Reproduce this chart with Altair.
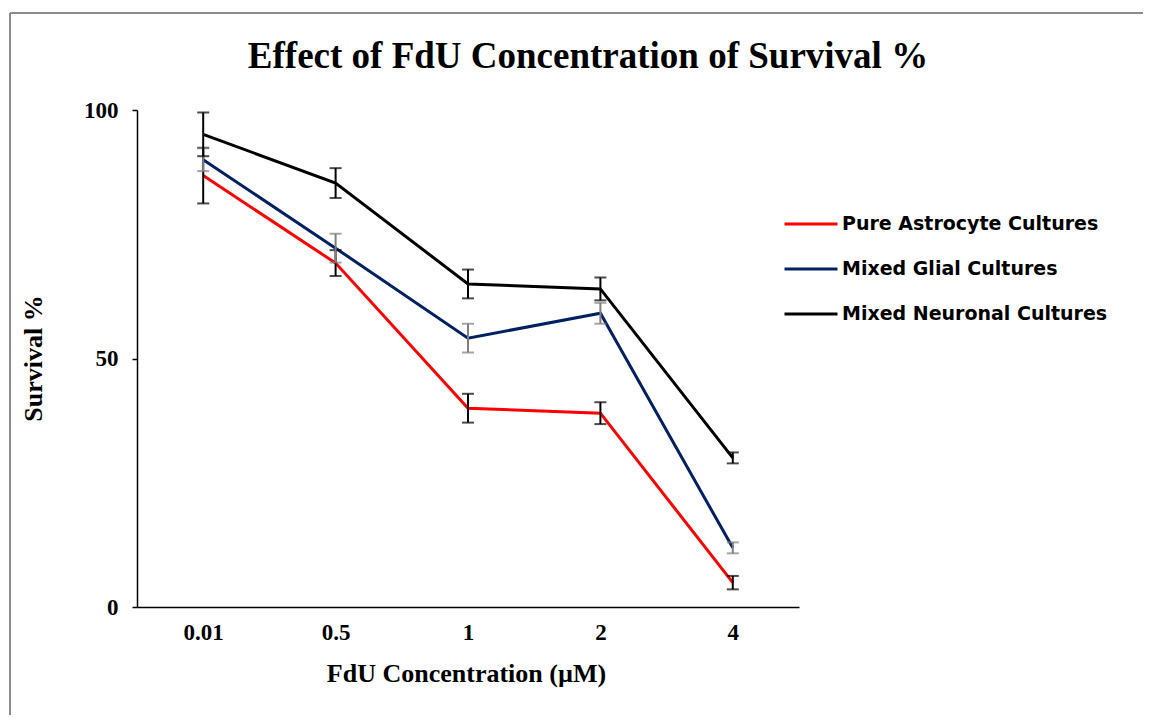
import altair as alt
import pandas as pd

# ---- data ----
chart_title = "Effect of FdU Concentration of Survival %"
concentrations = ["0.01", "0.5", "1", "2", "4"]
series_names = ["Pure Astrocyte Cultures", "Mixed Glial Cultures", "Mixed Neuronal Cultures"]
astrocyte = [86.8, 69.2, 40.0, 39.0, 4.9]
astrocyte_err = [5.6, 2.6, 2.9, 2.2, 1.35]
glial = [90.0, 72.2, 54.1, 59.1, 11.9]
glial_err = [2.3, 2.9, 2.9, 2.1, 1.1]
neuronal = [95.1, 85.3, 65.0, 64.0, 30.0]
neuronal_err = [4.4, 3.0, 2.9, 2.3, 1.1]
y_ticks = [0, 50, 100]

line_colors = ["#FF0000", "#002060", "#000000"]
err_colors = ["#000000", "#7F7F7F", "#000000"]

rows = []
for name, vals, errs in zip(series_names, [astrocyte, glial, neuronal],
                            [astrocyte_err, glial_err, neuronal_err]):
    for c, v, e in zip(concentrations, vals, errs):
        rows.append({"conc": c, "series": name, "value": v, "lo": v - e, "hi": v + e})
df = pd.DataFrame(rows)

SERIF = "Liberation Serif"

x_enc = alt.X(
    "conc:N", sort=concentrations,
    scale=alt.Scale(type="point", padding=0.5),
    axis=alt.Axis(
        title="FdU Concentration (µM)", labelAngle=0, ticks=False,
        labelFont=SERIF, labelFontSize=23, labelFontWeight="bold", labelColor="#000000",
        labelPadding=14, domainColor="#000000", domainWidth=1.5,
        titleFont=SERIF, titleFontSize=26, titleFontWeight="bold", titleColor="#000000",
        titleX=329, titleY=66, titleBaseline="middle", titleAlign="center",
    ),
)
y_scale = alt.Scale(domain=[0, 100])

lines = alt.Chart(df).mark_line(strokeWidth=3).encode(
    x=x_enc,
    y=alt.Y(
        "value:Q", scale=y_scale,
        axis=alt.Axis(
            title="Survival %", values=y_ticks, grid=False, tickSize=5, tickColor="#000000",
            tickWidth=1.5, domainColor="#000000", domainWidth=1.5,
            labelFont=SERIF, labelFontSize=23, labelFontWeight="bold", labelColor="#000000",
            labelPadding=14,
            titleFont=SERIF, titleFontSize=26, titleFontWeight="bold", titleColor="#000000",
            titleAngle=270, titleX=-104, titleY=248, titleBaseline="middle", titleAlign="center",
        ),
    ),
    color=alt.Color(
        "series:N",
        scale=alt.Scale(domain=series_names, range=line_colors),
        legend=alt.Legend(
            title=None, orient="none", legendX=646, legendY=86,
            symbolType="stroke", symbolSize=2809, symbolStrokeWidth=3,
            labelFont="DejaVu Sans", labelFontWeight="bold", labelFontSize=19,
            labelColor="#000000", labelOffset=3, labelLimit=0, rowPadding=7, padding=0,
        ),
    ),
)

err_layers = []
for name, col in zip(series_names, err_colors):
    base = alt.Chart(df).transform_filter(alt.datum.series == name)
    err_layers.append(
        base.mark_rule(color=col, strokeWidth=2).encode(
            x=alt.X("conc:N", sort=concentrations), y=alt.Y("lo:Q", scale=y_scale), y2="hi:Q")
    )
    err_layers.append(
        base.mark_tick(color=col, thickness=2, size=12, orient="horizontal").encode(
            x=alt.X("conc:N", sort=concentrations), y=alt.Y("lo:Q", scale=y_scale))
    )
    err_layers.append(
        base.mark_tick(color=col, thickness=2, size=12, orient="horizontal").encode(
            x=alt.X("conc:N", sort=concentrations), y=alt.Y("hi:Q", scale=y_scale))
    )

frame_df = pd.DataFrame({"k": [0]})
border_v = alt.Chart(frame_df).mark_rule(color="#8C8C8C", strokeWidth=2).encode(
    x=alt.value(-127), y=alt.value(-97), y2=alt.value(720))
border_h = alt.Chart(frame_df).mark_rule(color="#8C8C8C", strokeWidth=2).encode(
    x=alt.value(-127), x2=alt.value(1100), y=alt.value(-97))
title_text = alt.Chart(frame_df).mark_text(
    font=SERIF, fontSize=37, fontWeight="bold", color="#000000",
    align="center", baseline="alphabetic",
).encode(x=alt.value(451), y=alt.value(-42), text=alt.value(chart_title))

chart = alt.layer(border_v, border_h, title_text, lines, *err_layers).properties(
    width=662, height=497,
    autosize=alt.AutoSizeParams(type="none"),
    padding={"left": 129, "top": 102, "right": 344, "bottom": 108},
).configure(background="#FFFFFF").configure_view(stroke=None)

chart.save("out.html", embed_options={"renderer": "svg", "actions": False})
